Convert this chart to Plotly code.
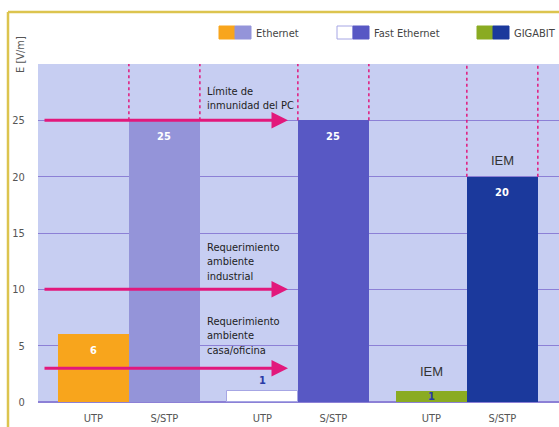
import plotly.graph_objects as go

# ---------------- data ----------------
groups = ["Ethernet", "Fast Ethernet", "GIGABIT"]
cables = ["UTP", "S/STP"]
ethernet = [6, 25]
fast_ethernet = [1, 25]
gigabit = [1, 20]
series = [ethernet, fast_ethernet, gigabit]
thresholds = [25, 10, 3]
threshold_labels = ["Límite de<br>inmunidad del PC",
                    "Requerimiento<br>ambiente<br>industrial",
                    "Requerimiento<br>ambiente<br>casa/oficina"]
y_ticks = [0, 5, 10, 15, 20, 25]
y_title = "E [V/m]"
iem_label = "IEM"

# ---------------- style ----------------
W, H = 559, 427
L, R, T, B = 38, 0, 64, 25
PW, PH = W - L - R, H - T - B
X0 = -0.28
XR = [X0, X0 + PW / 71.0]
YR = [0, 30]
group_step = 2.38
colors = [["#f8a51c", "#9494d9"], ["#ffffff", "#5858c4"], ["#8aab22", "#1b399c"]]
pink = "#e2187c"
grid = "#8c80d6"
bg = "#c7cef2"
narrow = "Liberation Sans Narrow, DejaVu Sans Condensed, Arial Narrow, sans-serif"

def px_x(p):
    return (p - L) / PW

def px_y(p):
    return (H - B - p) / PH

def data_x(p):
    return XR[0] + (p - L) / PW * (XR[1] - XR[0])

fig = go.Figure()
centers = []
for g, vals in enumerate(series):
    xs = [g * group_step + i + 0.5 for i in range(len(cables))]
    centers.extend(xs)
    fig.add_trace(go.Bar(
        x=xs, y=vals, width=1.0,
        marker=dict(color=colors[g],
                    line=dict(color=["#a6a6e4" if c == "#ffffff" else c for c in colors[g]],
                              width=[1 if c == "#ffffff" else 0 for c in colors[g]])),
        showlegend=False, hoverinfo="skip"))

annotations = []
shapes = []

# value labels
for g, vals in enumerate(series):
    for i, v in enumerate(vals):
        cx = g * group_step + i + 0.5
        if v >= 5:
            annotations.append(dict(x=cx, y=v, text=f"<b>{v}</b>", showarrow=False,
                                    yshift=-16, font=dict(color="white", size=11, family=narrow)))
        else:
            inside = g == 2
            annotations.append(dict(x=cx, y=v, text=f"<b>{v}</b>", showarrow=False,
                                    yshift=(-6 if inside else 10),
                                    font=dict(color="#2a3aa6", size=11, family=narrow)))
# IEM labels over gigabit bars
for i, v in enumerate(gigabit):
    cx = 2 * group_step + i + 0.5
    annotations.append(dict(x=cx, y=v, text=iem_label, showarrow=False,
                            yshift=(19 if v < 5 else 16),
                            font=dict(color="#333333", size=13, family="Liberation Sans, Arial, sans-serif")))

# dotted lines above S/STP bars
for g, vals in enumerate(series):
    top = vals[1]
    cx = g * group_step + 1.5
    for edge in (cx - 0.5, cx + 0.5):
        shapes.append(dict(type="line", xref="x", yref="y", x0=edge, x1=edge, y0=top, y1=YR[1],
                           line=dict(color=pink, width=1.5, dash="dot"), layer="above"))

# threshold arrows and labels
tail_x = data_x(43)
head_x = data_x(288)
label_x = data_x(205)
label_shift = [6, 4, 9]
for k, (t, lab) in enumerate(zip(thresholds, threshold_labels)):
    annotations.append(dict(x=head_x, y=t, ax=tail_x, ay=t, xref="x", yref="y", axref="x", ayref="y",
                            text="", showarrow=True, arrowhead=2, arrowsize=1.1, arrowwidth=3,
                            arrowcolor=pink, standoff=0))
    annotations.append(dict(x=label_x, y=t, text=lab, showarrow=False, xanchor="left", yanchor="bottom",
                            align="left", yshift=label_shift[k],
                            font=dict(color="#222222", size=11, family=narrow)))

# y title
annotations.append(dict(x=px_x(21), y=px_y(55), xref="paper", yref="paper", text=y_title,
                        textangle=-90, showarrow=False, xanchor="center", yanchor="middle",
                        font=dict(color="#555555", size=11, family=narrow)))

# legend (custom)
leg_y0, leg_y1 = px_y(39), px_y(26)
for g, name in enumerate(groups):
    sx = [219, 337, 477][g]
    for i in range(2):
        c = colors[g][i]
        shapes.append(dict(type="rect", xref="paper", yref="paper",
                           x0=px_x(sx + 16 * i), x1=px_x(sx + 16 * (i + 1)), y0=leg_y0, y1=leg_y1,
                           fillcolor=c, line=dict(color="#a6a6e4" if c == "#ffffff" else c, width=1)))
    annotations.append(dict(x=px_x(sx + 35), y=px_y(33), xref="paper", yref="paper", text=name,
                            showarrow=False, xanchor="left", yanchor="middle",
                            font=dict(color="#444444", size=11, family=narrow)))

# gold frame (left and top edges only)
frame = dict(color="#dcc44e", width=2.5)
shapes.append(dict(type="line", xref="paper", yref="paper", x0=px_x(8), x1=px_x(8),
                   y0=px_y(12), y1=px_y(H + 5), line=frame))
shapes.append(dict(type="line", xref="paper", yref="paper", x0=px_x(8), x1=px_x(W + 5),
                   y0=px_y(12), y1=px_y(12), line=frame))

fig.update_layout(
    width=W, height=H, margin=dict(l=L, r=R, t=T, b=B, pad=0),
    paper_bgcolor="white", plot_bgcolor=bg,
    bargap=0, barmode="overlay",
    xaxis=dict(range=XR, tickvals=centers, ticktext=cables * len(groups), showgrid=False,
               zeroline=False, ticks="outside", ticklen=6, tickcolor="rgba(0,0,0,0)",
               tickfont=dict(color="#555555", size=11, family=narrow), fixedrange=True),
    yaxis=dict(range=YR, tickvals=y_ticks, showgrid=True, gridcolor=grid, gridwidth=1,
               zeroline=True, zerolinecolor=grid, zerolinewidth=1.5,
               ticks="outside", ticklen=10, tickcolor="rgba(0,0,0,0)",
               tickfont=dict(color="#555555", size=11, family=narrow), fixedrange=True),
    annotations=annotations, shapes=shapes,
)

fig.write_html("out.html")
